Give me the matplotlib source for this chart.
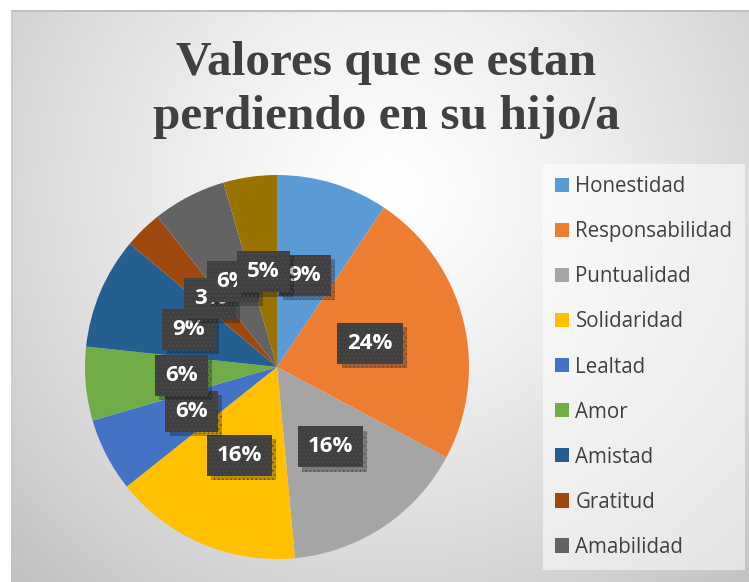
import numpy as np
import matplotlib
matplotlib.use("Agg")
import matplotlib.pyplot as plt
import matplotlib.patheffects as pe
from matplotlib.patches import Patch

plt.rcParams["hatch.linewidth"] = 0.6

# ---- data ----
categories = ["Honestidad", "Responsabilidad", "Puntualidad", "Solidaridad", "Lealtad",
              "Amor", "Amistad", "Gratitud", "Amabilidad", "Otros"]
values = [9.4, 23.4, 15.7, 15.8, 6.2, 6.2, 9.4, 3.2, 6.2, 4.5]
pct_labels = ["9%", "24%", "16%", "16%", "6%", "6%", "9%", "3%", "6%", "5%"]
colors = ["#5B9BD5", "#ED7D31", "#A5A5A5", "#FFC000", "#4472C4",
          "#70AD47", "#255E91", "#9E480E", "#636363", "#997300"]
legend_count = 9
title = "Valores que se estan\nperdiendo en su hijo/a"

W, H = 749, 582
fig = plt.figure(figsize=(W / 100, H / 100), dpi=100)

# ---- background (radial gradient chart area) ----
bg = fig.add_axes([0, 0, 1, 1])
bg.set_axis_off()
yy, xx = np.mgrid[0:H, 0:W]
d = np.sqrt((xx - 390) ** 2 + (yy - 190) ** 2)
t = np.clip(d / 540, 0, 1) ** 1.3
val = 1.0 - t * (1.0 - 0.76)
img = np.dstack([val, val, val])
img[:10, :, :] = 1.0
img[:, :11, :] = 1.0
img[10:12, 11:, :] = 0.75
img[10:, 11:13, :] = np.minimum(img[10:, 11:13, :], 0.80)
bg.imshow(img, extent=[0, W, H, 0], aspect="auto", interpolation="bilinear")
bg.set_xlim(0, W)
bg.set_ylim(H, 0)

# ---- pie ----
cx, cy, r = 277, 367, 192
ax = fig.add_axes([(cx - r) / W, (H - cy - r) / H, 2 * r / W, 2 * r / H])
ax.set_axis_off()
wedges, _, autotexts = ax.pie(values, colors=colors, startangle=90, counterclock=False,
                              autopct=lambda p: "", pctdistance=0.5, radius=1.0,
                              wedgeprops=dict(linewidth=0))
ax.set_xlim(-1, 1)
ax.set_ylim(-1, 1)

for i, (at, lab) in enumerate(zip(autotexts, pct_labels)):
    at.set_text(lab)
    at.set_fontfamily("Open Sans")
    at.set_fontweight("bold")
    at.set_fontsize(16)
    at.set_color("white")
    at.set_zorder(10 + i)
    at.set_bbox(dict(boxstyle="square,pad=0.45", facecolor="#404040",
                     edgecolor="#4e4e4e", linewidth=0, hatch="...."))
    patch = at.get_bbox_patch()
    patch.set_path_effects([pe.SimplePatchShadow(offset=(3, -3), shadow_rgbFace="black", alpha=0.25),
                            pe.Normal()])

# ---- title ----
fig.text(386 / W, 1 - 90 / H, title, ha="center", va="center",
         fontfamily="Liberation Serif", fontweight="bold", fontsize=35.5,
         color="#404040", linespacing=1.32)

# ---- legend ----
handles = [Patch(facecolor=c) for c in colors[:legend_count]]
leg = fig.legend(handles, categories[:legend_count], loc="upper left",
                 bbox_to_anchor=(543 / W, 1 - 164 / H), bbox_transform=fig.transFigure,
                 frameon=True, fancybox=False, borderaxespad=0,
                 prop=dict(family="Open Sans", size=14.8),
                 handlelength=0.68, handleheight=0.68, handletextpad=0.3,
                 labelspacing=1.17, borderpad=0.6)
leg.get_frame().set_facecolor("white")
leg.get_frame().set_alpha(0.55)
leg.get_frame().set_linewidth(0)
for tx in leg.get_texts():
    tx.set_color("#404040")

fig.savefig("out.png", dpi=100)
